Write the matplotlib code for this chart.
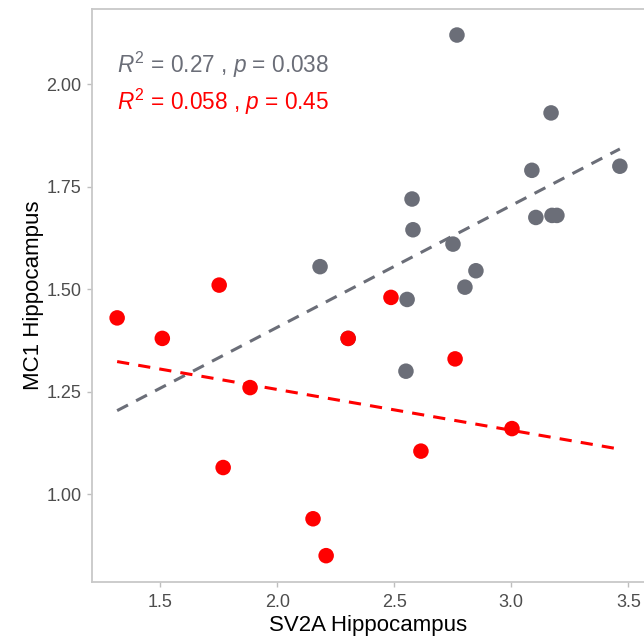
import numpy as np
import matplotlib
matplotlib.use("Agg")
import matplotlib.pyplot as plt

plt.rcParams['font.family'] = ['Liberation Sans', 'DejaVu Sans']
plt.rcParams['mathtext.fontset'] = 'custom'
plt.rcParams['mathtext.rm'] = 'Liberation Sans'
plt.rcParams['mathtext.it'] = 'Liberation Sans:italic'

# Gray group (one point lies hidden under a red point near 2.30, 1.38)
gray_x = [2.768, 3.17, 3.088, 3.464, 2.576, 2.58, 3.105, 3.174, 3.195, 2.751, 2.849, 2.802, 2.555, 2.183, 2.55, 2.303]
gray_y = [2.12, 1.93, 1.79, 1.80, 1.72, 1.645, 1.675, 1.68, 1.68, 1.61, 1.545, 1.505, 1.475, 1.555, 1.30, 1.38]
# Red group
red_x = [1.316, 1.509, 1.752, 1.884, 1.769, 2.303, 2.486, 2.76, 3.003, 2.614, 2.153, 2.209]
red_y = [1.43, 1.38, 1.51, 1.26, 1.065, 1.38, 1.48, 1.33, 1.16, 1.105, 0.94, 0.85]

gray_label = r'$\it{R}^{2}$ = 0.27 , $\it{p}$ = 0.038'
red_label = r'$\it{R}^{2}$ = 0.058 , $\it{p}$ = 0.45'

x_ticks = [1.5, 2.0, 2.5, 3.0, 3.5]
x_ticklabels = ['1.5', '2.0', '2.5', '3.0', '3.5']
y_ticks = [1.0, 1.25, 1.5, 1.75, 2.0]
y_ticklabels = ['1.00', '1.25', '1.50', '1.75', '2.00']

GRAY = '#6B6E78'
RED = '#FF0000'

fig = plt.figure(figsize=(6.44, 6.41), dpi=100)
ax = fig.add_axes([92/644, 59.3/641, 553/644, 572.7/641])

allx = np.array(gray_x + red_x)
ally = np.array(gray_y + red_y)
xr = allx.max() - allx.min()
yr = ally.max() - ally.min()
ax.set_xlim(allx.min() - 0.05*xr, allx.max() + 0.05*xr)
ax.set_ylim(ally.min() - 0.05*yr, ally.max() + 0.05*yr)

xs = np.linspace(allx.min(), allx.max(), 50)
for xv, yv, c in [(gray_x, gray_y, GRAY), (red_x, red_y, RED)]:
    b, a = np.polyfit(xv, yv, 1)
    ax.plot(xs, a + b*xs, ls=(0, (4, 3)), color=c, lw=2.2, zorder=2)
ax.scatter(gray_x, gray_y, s=125, color=GRAY, edgecolors='none', zorder=3)
ax.scatter(red_x, red_y, s=125, color=RED, edgecolors='none', zorder=4)

ax.text(0.045, 0.889, gray_label, transform=ax.transAxes, color=GRAY, fontsize=16.3, va='baseline')
ax.text(0.045, 0.823, red_label, transform=ax.transAxes, color=RED, fontsize=16.3, va='baseline')

ax.set_xticks(x_ticks)
ax.set_xticklabels(x_ticklabels)
ax.set_yticks(y_ticks)
ax.set_yticklabels(y_ticklabels)
ax.tick_params(colors='#BEBEBE', labelcolor='#4D4D4D', labelsize=13, length=3.5, width=1)
ax.tick_params(axis='x', pad=5.5)
ax.tick_params(axis='y', pad=4)
for s in ax.spines.values():
    s.set_color('#C8C8C8')
    s.set_linewidth(1.3)
ax.set_xlabel('SV2A Hippocampus', fontsize=16, color='black', labelpad=3)
ax.set_ylabel('MC1 Hippocampus', fontsize=16, color='black', labelpad=2)

fig.savefig('out.png', dpi=100)
